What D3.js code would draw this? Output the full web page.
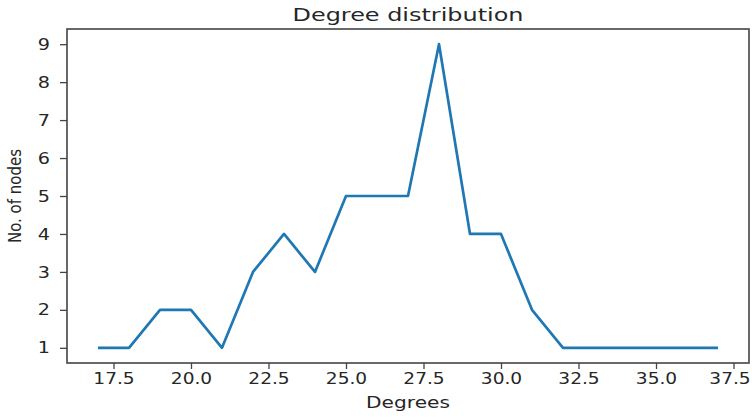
<!DOCTYPE html>
<html><head><meta charset="utf-8">
<script src="https://cdn.jsdelivr.net/npm/d3@7"></script>
<style>body{margin:0;background:#fff}svg{display:block}text{font-family:"DejaVu Sans",sans-serif;fill:#262626}</style>
</head><body><svg id="c" width="752" height="417"></svg>
<script>
const degrees = [17,18,19,20,21,22,23,24,25,26,27,28,29,30,31,32,33,34,35,36,37];
const counts  = [1,1,2,2,1,3,4,3,5,5,5,9,4,4,2,1,1,1,1,1,1];
const xTicks = [17.5,20.0,22.5,25.0,27.5,30.0,32.5,35.0,37.5];
const yTicks = [1,2,3,4,5,6,7,8,9];
const title = "Degree distribution", xLabel = "Degrees", yLabel = "No. of nodes";

const SX = 1.16;
const m = {l:67, t:29, r:749, b:363};
const svg = d3.select("#c");
const x = d3.scaleLinear().domain([16,38]).range([m.l,m.r]);
const y = d3.scaleLinear().domain([0.6,9.4]).range([m.b,m.t]);

const ax = svg.append("g").attr("transform",`translate(0,${m.b})`)
  .call(d3.axisBottom(x).tickValues(xTicks).tickFormat(d3.format(".1f")).tickSize(6).tickSizeOuter(0));
ax.selectAll("text").attr("transform",`scale(${SX},1)`).attr("y",10).style("font-size","16px");
// keep the last label inside the 752px window
ax.selectAll(".tick").filter(d=>d===xTicks[xTicks.length-1]).select("text").attr("x",-4/SX);
const ay = svg.append("g").attr("transform",`translate(${m.l},0)`)
  .call(d3.axisLeft(y).tickValues(yTicks).tickFormat(d3.format("d")).tickSize(7).tickSizeOuter(0));
ay.selectAll("text").attr("transform",`scale(1.2,1)`).attr("x",-17/1.2).style("font-size","16px");
svg.selectAll(".domain").remove();
svg.selectAll(".tick line").attr("stroke","#444").attr("stroke-width",1.3);

svg.append("path").datum(degrees.map((d,i)=>[d,counts[i]]))
  .attr("fill","none").attr("stroke","#1f77b4").attr("stroke-width",2.7).attr("stroke-linejoin","round")
  .attr("d",d3.line().x(d=>x(d[0])).y(d=>y(d[1])));

svg.append("rect").attr("x",m.l).attr("y",m.t).attr("width",m.r-m.l).attr("height",m.b-m.t)
  .attr("fill","none").attr("stroke","#444").attr("stroke-width",1.6);

function label(txt,tx,ty,size,sx,rot){
  svg.append("g").attr("transform",`translate(${tx},${ty}) scale(${sx},1)${rot?` rotate(${rot})`:""}`)
    .append("text").attr("text-anchor","middle").style("font-size",size+"px").text(txt);
}
label(title,(m.l+m.r)/2+0,21,18,1.33);
label(xLabel,(m.l+m.r)/2,408,15.5,1.3);
label(yLabel,21,(m.t+m.b)/2,15,1.15,-90);
</script></body></html>
